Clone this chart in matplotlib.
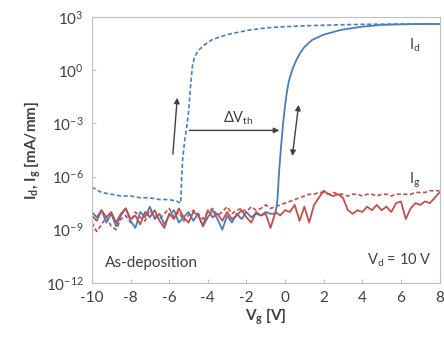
import numpy as np
import matplotlib
matplotlib.use("Agg")
import matplotlib.pyplot as plt

plt.rcParams['font.family'] = ['Lato', 'DejaVu Sans']
plt.rcParams['mathtext.default'] = 'regular'

# gate current grid, -10 .. 8 V in 0.25 V steps
vg_gate = np.arange(-10, 8.001, 0.25)

# log10(Ig) forward sweep (solid red)
ig_fwd_log = [-8.2, -8.5, -7.9, -8.3, -8.0, -8.6, -8.1, -7.8, -8.4, -8.2, -8.7, -8.0, -8.3, -7.9,
              -8.5, -8.9, -8.1, -8.4, -7.8, -8.3, -8.6, -8.0, -8.2, -8.8, -7.9, -8.3, -8.1, -8.5,
              -8.0, -8.4, -8.2, -7.9, -8.3, -8.6, -8.0, -8.2, -8.1, -8.9, -8.0, -8.2, -7.9,
              -8.0, -7.6, -8.5, -7.7, -8.6, -7.6, -7.2, -6.8, -7.0, -7.1, -7.0, -7.2, -7.9, -8.1,
              -7.9, -8.0, -7.7, -7.9, -7.6, -7.9, -7.7, -8.0, -7.5, -7.4, -8.4, -7.8, -7.5, -7.6,
              -7.4, -7.5, -7.2, -6.9]
# log10(Ig) reverse sweep (dashed red)
ig_rev_log = [-8.6, -9.1, -8.7, -8.3, -8.8, -9.0, -8.4, -8.2, -8.6, -8.0, -8.3, -8.5, -7.9, -8.2,
              -8.4, -8.1, -7.8, -8.3, -8.0, -8.5, -8.2, -7.9, -8.1, -8.4, -8.0, -7.8, -8.2, -8.0,
              -7.7, -8.1, -7.9, -7.8, -8.0, -7.7, -7.9, -7.8, -7.6, -7.8, -7.7, -7.6, -7.5,
              -7.4, -7.3, -7.2, -7.1, -7.0, -7.0, -6.9, -6.9, -7.0, -6.9, -7.0, -7.0, -7.1, -7.0,
              -7.0, -7.1, -7.0, -7.0, -7.1, -7.0, -7.0, -7.1, -7.0, -7.0, -7.0, -7.0, -6.9, -6.9,
              -6.9, -6.8, -6.8, -6.8]

# Id forward sweep (solid blue)
vg_id_fwd = list(np.arange(-10, -0.74, 0.25)) + [-0.5, -0.4, -0.3, -0.2, -0.1, 0.0, 0.1, 0.2, 0.4, 0.6,
                                                   0.8, 1.0, 1.4, 2.0, 2.9, 4.0, 5.0, 6.0, 7.0, 8.0]
id_fwd_log = [-8.0, -8.3, -7.9, -8.6, -8.1, -8.8, -8.2, -7.8, -8.5, -8.9, -8.0, -8.3, -7.7, -8.4,
              -8.1, -8.7, -8.2, -7.9, -8.6, -8.3, -8.0, -8.5, -8.1, -8.8, -8.3, -7.9, -8.4, -9.0,
              -8.2, -8.6, -8.1, -8.4, -8.0, -8.3, -8.1, -8.2, -8.0, -8.1,
              -8.1, -7.4, -5.6, -4.2, -3.0, -2.0, -1.2, -0.6, 0.1, 0.6,
              1.0, 1.3, 1.7, 2.0, 2.27, 2.45, 2.55, 2.58, 2.6, 2.6]

# Id reverse sweep (dashed blue)
vg_id_rev = [-10, -9.5, -9, -8.5, -8, -7.5, -7, -6.5, -6, -5.6, -5.4, -5.35, -5.3, -5.2, -5.1, -5.0,
             -4.9, -4.8, -4.7, -4.5, -4.2, -3.8, -3.3, -2.8, -1.9, -1.0, 0, 1, 2, 3, 4, 6, 8]
id_rev_log = [-6.6, -6.9, -7.0, -7.1, -7.1, -7.2, -7.2, -7.3, -7.3, -7.4, -7.5, -6.0, -5.0, -4.0,
              -3.3, -2.4, -1.0, 0.2, 0.7, 1.1, 1.4, 1.7, 1.9, 2.05, 2.25, 2.38, 2.45, 2.5, 2.53,
              2.56, 2.58, 2.6, 2.6]

blue = '#4A7EBB'
red = '#C0504D'

fig = plt.figure(figsize=(4.44, 3.45), dpi=100)
ax = fig.add_axes([0.207, 0.180, 0.783, 0.771])

ax.plot(vg_gate, 10.0 ** np.array(ig_rev_log), color=red, lw=1.2, ls=(0, (2.5, 1.5)))
ax.plot(vg_id_rev, 10.0 ** np.array(id_rev_log), color=blue, lw=1.2, ls=(0, (2.5, 1.5)))
ax.plot(vg_id_fwd, 10.0 ** np.array(id_fwd_log), color=blue, lw=1.3)
ax.plot(vg_gate, 10.0 ** np.array(ig_fwd_log), color=red, lw=1.3)

ax.set_yscale('log')
ax.set_xlim(-10, 8)
ax.set_ylim(1e-12, 1e3)
ax.set_xticks(range(-10, 9, 2))
ax.set_xticklabels([str(v) for v in range(-10, 9, 2)])
ax.set_yticks([1e-12, 1e-9, 1e-6, 1e-3, 1e0, 1e3])
ax.set_yticklabels(['$10^{-12}$', '$10^{-9}$', '$10^{-6}$', '$10^{-3}$', '$10^{0}$', '$10^{3}$'])
ax.minorticks_off()
ax.tick_params(direction='in', length=3, color='#BFBFBF', labelsize=11,
               labelcolor='#404040', pad=6)
for s in ax.spines.values():
    s.set_color('#BFBFBF')

ax.set_xlabel('V$_g$ [V]', fontsize=11, fontweight='bold', color='#404040', labelpad=1)
ax.set_ylabel('I$_d$, I$_g$ [mA/mm]', fontsize=11, fontweight='bold', color='#404040', labelpad=2)

# annotations
ax.annotate('', xy=(-0.15, 10 ** -3.4), xytext=(-5.1, 10 ** -3.4),
            arrowprops=dict(arrowstyle='-|>', color='#404040', lw=1.0, mutation_scale=8))
ax.text(-2.4, 10 ** -2.7, r'$\Delta$V$_{th}$', fontsize=10.5, color='#404040', ha='center', va='center')
ax.annotate('', xy=(-5.57, 10 ** -1.4), xytext=(-5.82, 10 ** -4.9),
            arrowprops=dict(arrowstyle='-|>', color='#404040', lw=1.0, mutation_scale=8))
ax.annotate('', xy=(0.72, 10 ** -1.8), xytext=(0.36, 10 ** -5.0),
            arrowprops=dict(arrowstyle='<|-|>', color='#404040', lw=1.0, mutation_scale=8))
ax.text(6.7, 10 ** 1.4, 'I$_d$', fontsize=10.5, color='#404040', ha='center', va='center')
ax.text(6.7, 10 ** -6.2, 'I$_g$', fontsize=10.5, color='#404040', ha='center', va='center')
ax.text(-9.3, 10 ** -10.9, 'As-deposition', fontsize=11, color='#404040', ha='left', va='center')
ax.text(7.6, 10 ** -10.7, 'V$_d$ = 10 V', fontsize=10.5, color='#404040', ha='right', va='center')

fig.savefig('out.png', dpi=100)
